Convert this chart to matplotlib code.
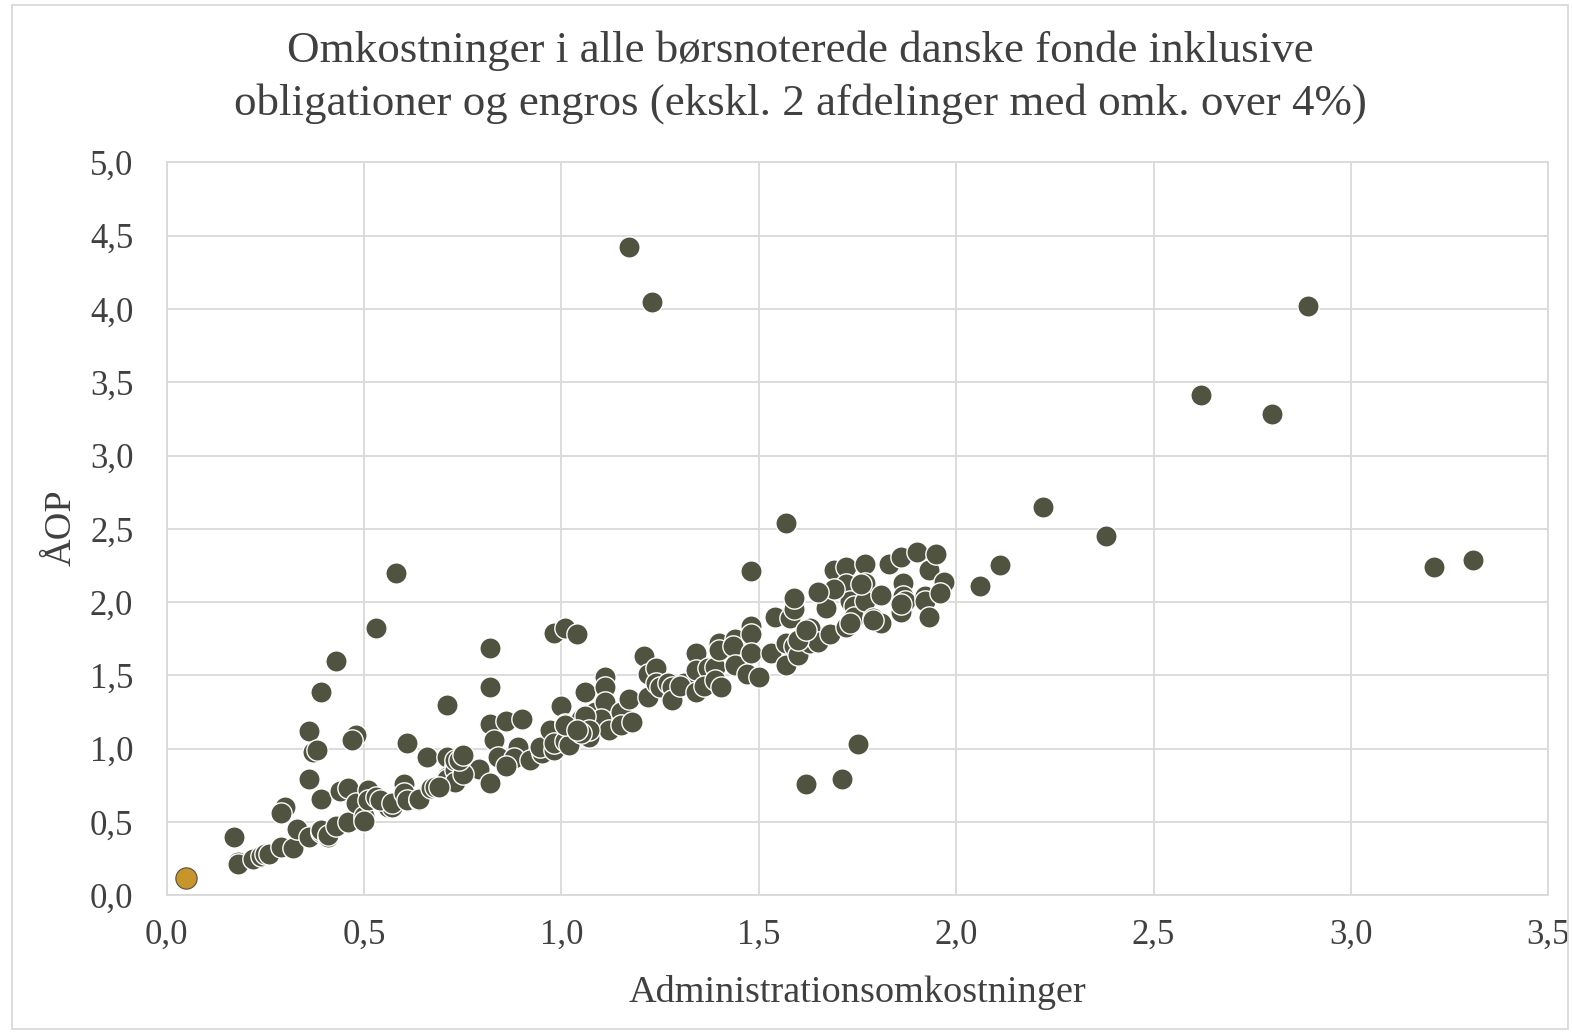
import matplotlib
matplotlib.use("Agg")
import matplotlib.pyplot as plt
from matplotlib.ticker import FuncFormatter, MultipleLocator
from matplotlib.patches import Rectangle

plt.rcParams['font.family'] = ['Liberation Serif', 'DejaVu Serif']

title_lines = ["Omkostninger i alle børsnoterede danske fonde inklusive",
               "obligationer og engros (ekskl. 2 afdelinger med omk. over 4%)"]
x_label = "Administrationsomkostninger"
y_label = "ÅOP"

# Highlighted fund (orange)
hl_x = [0.05]
hl_y = [0.12]

# All other funds
adm = [
    0.17, 0.18, 0.18, 0.22, 0.24, 0.25, 0.26, 0.29, 0.32, 0.30, 0.29, 0.33, 0.36, 0.39, 0.39, 0.41, 0.41,
    0.36, 0.37, 0.38, 0.36, 0.39, 0.44, 0.46, 0.48, 0.47, 0.43, 0.46, 0.48, 0.51, 0.50, 0.51, 0.53, 0.56,
    0.57, 0.50, 0.54, 0.57, 0.60, 0.60, 0.61, 0.61, 0.64, 0.64, 0.66, 0.67, 0.68, 0.71, 0.71, 0.71, 0.71,
    0.73, 0.73, 0.73, 0.73, 0.69, 0.43, 0.39, 0.53, 0.58,
    0.82, 0.82, 0.82, 0.86, 0.90, 0.83, 0.89, 0.84, 0.88, 0.92, 0.79, 0.75, 0.82, 0.74, 0.75, 0.86, 0.95,
    0.945, 0.98, 0.97, 0.98, 1.00, 1.01, 1.03, 1.05, 1.01, 1.02, 1.06, 1.085, 1.08, 1.07, 1.11, 1.11, 1.11,
    1.10, 1.12, 1.15, 1.15, 1.17, 1.18, 1.06, 1.07, 1.05, 1.01, 1.04, 0.98, 1.01, 1.04, 1.21, 1.22, 1.24,
    1.22, 1.24, 1.25, 1.27, 1.28, 1.28, 1.31, 1.30, 1.34, 1.34, 1.34, 1.37, 1.39, 1.36, 1.39, 1.405, 1.40,
    1.40, 1.44, 1.435, 1.44, 1.47, 1.50, 1.48, 1.48, 1.48, 1.53, 1.57, 1.17, 1.23, 1.57, 1.48,
    1.54, 1.58, 1.59, 1.59, 1.57, 1.59, 1.60, 1.63, 1.63, 1.65, 1.66, 1.68, 1.67, 1.69, 1.72, 1.70, 1.72,
    1.73, 1.74, 1.72, 1.74, 1.77, 1.77, 1.77, 1.81, 1.79, 1.81, 1.83, 1.86, 1.865, 1.865, 1.87, 1.86, 1.90,
    1.93, 1.95, 1.92, 1.92, 1.93, 1.97, 1.96, 1.86, 1.76, 1.69, 1.65, 1.60, 1.62, 1.73, 1.79,
    1.75, 1.71, 1.62,
    2.06, 2.11, 2.22, 2.38, 2.62, 2.80, 2.89, 3.21, 3.31,
]
aop = [
    0.40, 0.23, 0.21, 0.245, 0.27, 0.28, 0.28, 0.33, 0.32, 0.60, 0.56, 0.45, 0.40, 0.43, 0.445, 0.40, 0.41,
    1.12, 0.98, 0.99, 0.79, 0.66, 0.71, 0.73, 1.09, 1.06, 0.47, 0.50, 0.63, 0.72, 0.54, 0.65, 0.67, 0.60,
    0.60, 0.51, 0.65, 0.63, 0.76, 0.70, 0.65, 1.04, 0.65, 0.66, 0.94, 0.73, 0.74, 0.945, 0.81, 0.79, 1.30,
    0.88, 0.855, 0.92, 0.77, 0.74, 1.60, 1.39, 1.82, 2.20,
    1.69, 1.42, 1.17, 1.19, 1.20, 1.06, 1.01, 0.945, 0.935, 0.92, 0.86, 0.83, 0.765, 0.92, 0.96, 0.88, 0.97,
    1.01, 0.99, 1.13, 1.04, 1.29, 1.17, 1.14, 1.20, 1.05, 1.025, 1.39, 1.25, 1.14, 1.08, 1.49, 1.42, 1.32,
    1.20, 1.13, 1.25, 1.16, 1.34, 1.18, 1.22, 1.13, 1.105, 1.16, 1.13, 1.79, 1.82, 1.78, 1.63, 1.51, 1.55,
    1.355, 1.45, 1.42, 1.45, 1.42, 1.33, 1.45, 1.43, 1.39, 1.65, 1.54, 1.55, 1.56, 1.43, 1.47, 1.42, 1.72,
    1.67, 1.75, 1.70, 1.57, 1.51, 1.49, 1.84, 1.78, 1.65, 1.65, 1.57, 4.42, 4.05, 2.54, 2.21,
    1.90, 1.89, 1.95, 2.03, 1.72, 1.70, 1.64, 1.82, 1.72, 1.73, 2.06, 1.78, 1.96, 2.22, 2.24, 2.09, 2.12,
    2.01, 1.97, 1.83, 1.90, 2.26, 2.13, 2.01, 2.05, 1.89, 1.86, 2.26, 2.31, 2.13, 2.04, 2.01, 1.93, 2.34,
    2.22, 2.33, 2.04, 2.01, 1.90, 2.14, 2.06, 1.99, 2.12, 2.09, 2.07, 1.74, 1.81, 1.86, 1.88,
    1.03, 0.79, 0.76,
    2.11, 2.25, 2.65, 2.45, 3.41, 3.28, 4.02, 2.24, 2.29,
]

W, H = 1572, 1032
fig = plt.figure(figsize=(W / 100, H / 100), dpi=100)
ax = fig.add_axes([0.106, 0.1325, 0.879, 0.7102])

ax.scatter(adm, aop, s=235, c='#4F5340', edgecolors='white', linewidths=1.0, zorder=3)
ax.scatter(hl_x, hl_y, s=235, c='#C8952C', edgecolors='#4F5340', linewidths=0.8, zorder=4)

ax.set_xlim(0, 3.5)
ax.set_ylim(0, 5.0)
ax.xaxis.set_major_locator(MultipleLocator(0.5))
ax.yaxis.set_major_locator(MultipleLocator(0.5))
fmt = FuncFormatter(lambda v, p: f"{v:.1f}".replace('.', ','))
ax.xaxis.set_major_formatter(fmt)
ax.yaxis.set_major_formatter(fmt)
ax.grid(True, color='#D9D9D9', linewidth=1.3, zorder=0)
ax.set_axisbelow(True)
for s in ax.spines.values():
    s.set_color('#D9D9D9')
    s.set_linewidth(1.3)
ax.tick_params(length=0, labelsize=25, labelcolor='#404040')
ax.tick_params(axis='x', pad=17)
ax.tick_params(axis='y', pad=24)

fig.text(857.7 / W, 1 - 1002 / H, x_label, ha='center', va='baseline',
         fontsize=27.5, color='#404040')
fig.text(61 / W, 1 - 528 / H, y_label, ha='center', va='center', rotation=90,
         fontsize=27.5, color='#404040')

fig.text(800 / W, 1 - 62 / H, title_lines[0], ha='center', va='baseline',
         fontsize=32.4, color='#404040')
fig.text(800 / W, 1 - 115 / H, title_lines[1], ha='center', va='baseline',
         fontsize=32.4, color='#404040')

fig.patches.append(Rectangle((12 / W, 3 / H), 1 - 16 / W, 1 - 8 / H, transform=fig.transFigure,
                             fill=False, edgecolor='#D9D9D9', linewidth=1.3))

fig.savefig("out.png", dpi=100, facecolor='white')
